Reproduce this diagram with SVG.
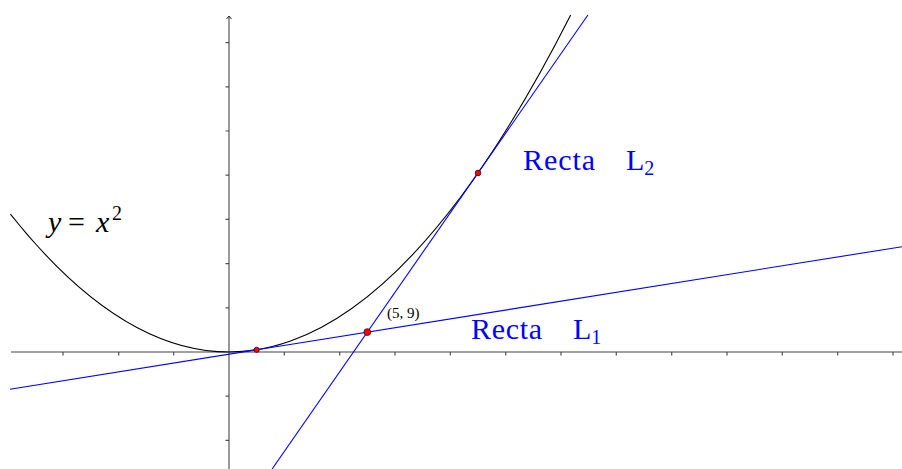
<svg xmlns="http://www.w3.org/2000/svg" width="902" height="469" viewBox="0 0 902 469">
<style>
.axis{stroke:#808080;stroke-width:1.6;fill:none}
.tick{stroke:#505050;stroke-width:1.2}
.blue{stroke:#0000ff;stroke-width:1.1;fill:none}
.curve{stroke:#000;stroke-width:1.1;fill:none}
.pt{fill:#ff0000;stroke:#400000;stroke-width:0.8}
.lbl{font-family:"Liberation Serif",serif;fill:#0000ff}
.math{font-family:"Liberation Serif",serif;fill:#000}
</style>
<rect width="902" height="469" fill="#fff"/>
<g id="axes">
<line class="axis" x1="11" y1="352" x2="902" y2="352"/>
<line class="axis" x1="229" y1="469" x2="229" y2="17"/>
<path d="M226.5 19 L229 16 L231.5 19" fill="none" stroke="#202020" stroke-width="1"/>
<path class="tick" d="M63 352v3.5M118.7 352v3.5M173.7 352v3.5M284.3 352v3.5M339.7 352v3.5M395 352v3.5M450.3 352v3.5M505.7 352v3.5M561 352v3.5M616.3 352v3.5M671.7 352v3.5M727 352v3.5M782.3 352v3.5M837.7 352v3.5M893 352v3.5"/>
<path class="tick" d="M229 440.4h-3.5M229 396.2h-3.5M229 307.8h-3.5M229 263.6h-3.5M229 219.4h-3.5M229 175.2h-3.5M229 131h-3.5M229 86.8h-3.5M229 42.6h-3.5"/>
</g>
<g id="parabola">
<path class="curve" d="M10.43 214.07 Q290.56 567.62 570.69 14.93"/>
</g>
<g id="connectors">
<line id="L1" class="blue" x1="10" y1="389.2" x2="902" y2="246.7"/>
<line id="L2" class="blue" x1="587.9" y1="15" x2="272.1" y2="469"/>
</g>
<g id="points">
<circle class="pt" cx="256.67" cy="349.79" r="2.6"/>
<circle class="pt" cx="367.33" cy="332.11" r="3.4"/>
<circle class="pt" cx="478" cy="172.99" r="2.8"/>
</g>
<g id="labels">
<text class="math" y="232" font-size="30"><tspan x="48" font-style="italic">y</tspan><tspan x="68">=</tspan><tspan x="96" font-style="italic">x</tspan><tspan x="112" font-size="20" dy="-12">2</tspan></text>
<text class="lbl" x="523" y="170" font-size="30" textLength="72">Recta</text>
<text class="lbl" x="626" y="170" font-size="30">L<tspan font-size="20" dy="5">2</tspan></text>
<text class="lbl" x="471" y="339" font-size="30" textLength="71">Recta</text>
<text class="lbl" x="573" y="339" font-size="30">L<tspan font-size="20" dy="5">1</tspan></text>
<text class="math" x="387" y="318" font-size="15">(5, 9)</text>
</g>
</svg>
